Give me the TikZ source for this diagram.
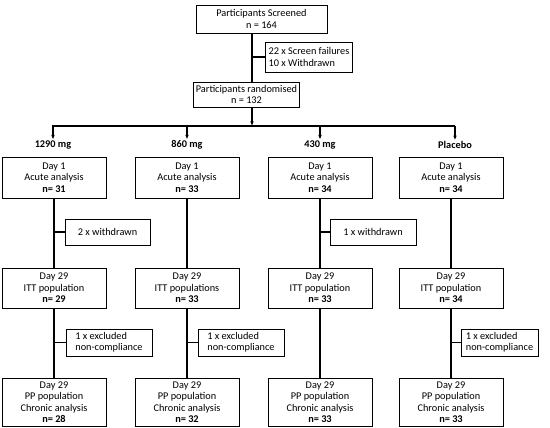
\documentclass[tikz,border=0pt]{standalone}
\usepackage{fontspec}
\setmainfont{Carlito}
\usetikzlibrary{arrows.meta,positioning,calc}
\tikzset{
  box/.style={draw=black, line width=0.8pt, align=center, inner sep=2pt, font=\fontsize{10.3}{11.5}\selectfont},
  armbox/.style={box, minimum width=104pt},
  sidebox/.style={draw=black, line width=0.8pt, align=left, inner sep=3pt, font=\fontsize{10.3}{11.5}\selectfont},
  armlabel/.style={inner sep=1pt, font=\fontsize{10.3}{12}\selectfont\bfseries},
  trunk/.style={line width=1.6pt},
  tick/.style={line width=1.2pt},
  arrow/.style={-{Latex[length=1.6mm,width=1.3mm]}, line width=1.4pt}
}
\begin{document}
\begin{tikzpicture}[x=1pt, y=-1pt]
\useasboundingbox (0,0) rectangle (550,428);
% screening
\node[box, minimum width=131pt, minimum height=28pt] (screened) at (261.5,19) {Participants Screened\\n = 164};
\node[sidebox, minimum width=82pt, minimum height=30pt] (fail) at (309,57) {22 x Screen failures\\10 x Withdrawn};
\node[box, minimum width=97pt, minimum height=25pt] (rand) at (246.5,94.5) {Participants randomised\\n = 132};
\coordinate (spine) at (252,0);
\coordinate (barL) at (52,126);
\coordinate (barR) at (455,126);
\draw[trunk] (screened.south -| spine) -- (rand.north -| spine);
\draw[tick] (fail.west -| spine) -- (fail.west);
\draw[arrow] (rand.south -| spine) -- (barL -| spine);
\draw[trunk] (barL) -- (barR);
% arms
\node[armlabel] (a1290) at (53,145) {1290 mg};
\node[armlabel] (a860) at (187,145) {860 mg};
\node[armlabel] (a430) at (320,145) {430 mg};
\node[armlabel] (aplac) at (455,145) {Placebo};
\draw[arrow] (barL -| a1290) -- (a1290.north);
\draw[arrow] (barL -| a860) -- (a860.north);
\draw[arrow] (barL -| a430) -- (a430.north);
\draw[arrow] (barL -| aplac) -- (aplac.north);
% day 1
\node[armbox, minimum height=41pt] (d1a) at (54,177.5) {Day 1\\Acute analysis\\\textbf{n= 31}};
\node[armbox, minimum height=41pt] (d1b) at (187,177.5) {Day 1\\Acute analysis\\\textbf{n= 33}};
\node[armbox, minimum height=41pt] (d1c) at (320,177.5) {Day 1\\Acute analysis\\\textbf{n= 34}};
\node[armbox, minimum height=41pt] (d1d) at (451,177.5) {Day 1\\Acute analysis\\\textbf{n= 34}};
% day 29 itt
\node[armbox, minimum height=40pt] (ittA) at (54,288) {Day 29\\ITT population\\\textbf{n= 29}};
\node[armbox, minimum height=40pt] (ittB) at (187,288) {Day 29\\ITT populations\\\textbf{n= 33}};
\node[armbox, minimum height=40pt] (ittC) at (320,288) {Day 29\\ITT population\\\textbf{n= 33}};
\node[armbox, minimum height=40pt] (ittD) at (451,288) {Day 29\\ITT population\\\textbf{n= 34}};
% day 29 pp
\node[armbox, minimum height=48pt] (ppA) at (54,402) {Day 29\\PP population\\Chronic analysis\\\textbf{n= 28}};
\node[armbox, minimum height=48pt] (ppB) at (187,402) {Day 29\\PP population\\Chronic analysis\\\textbf{n= 32}};
\node[armbox, minimum height=48pt] (ppC) at (320,402) {Day 29\\PP population\\Chronic analysis\\\textbf{n= 33}};
\node[armbox, minimum height=48pt] (ppD) at (451,402) {Day 29\\PP population\\Chronic analysis\\\textbf{n= 33}};
% drop-outs
\node[box, minimum width=85pt, minimum height=26pt] (wdA) at (107.5,232) {2 x withdrawn};
\node[box, minimum width=86pt, minimum height=26pt] (wdC) at (373,232) {1 x withdrawn};
\node[sidebox, minimum width=86pt, minimum height=27pt] (exA) at (109,342.5) {1 x excluded\\non-compliance};
\node[sidebox, minimum width=86pt, minimum height=27pt] (exB) at (241,342.5) {1 x excluded\\non-compliance};
\node[sidebox, minimum width=77pt, minimum height=27pt] (exD) at (499.5,342.5) {1 x excluded\\non-compliance};
\draw[trunk] (d1a) -- (ittA) (ittA) -- (ppA);
\draw[trunk] (d1b) -- (ittB) (ittB) -- (ppB);
\draw[trunk] (d1c) -- (ittC) (ittC) -- (ppC);
\draw[trunk] (d1d) -- (ittD) (ittD) -- (ppD);
\draw[tick] (wdA.west -| d1a) -- (wdA.west);
\draw[tick] (wdC.west -| d1c) -- (wdC.west);
\draw[tick] (exA.west -| ittA) -- (exA.west);
\draw[tick] (exB.west -| ittB) -- (exB.west);
\draw[tick] (exD.west -| ittD) -- (exD.west);
\end{tikzpicture}
\end{document}
